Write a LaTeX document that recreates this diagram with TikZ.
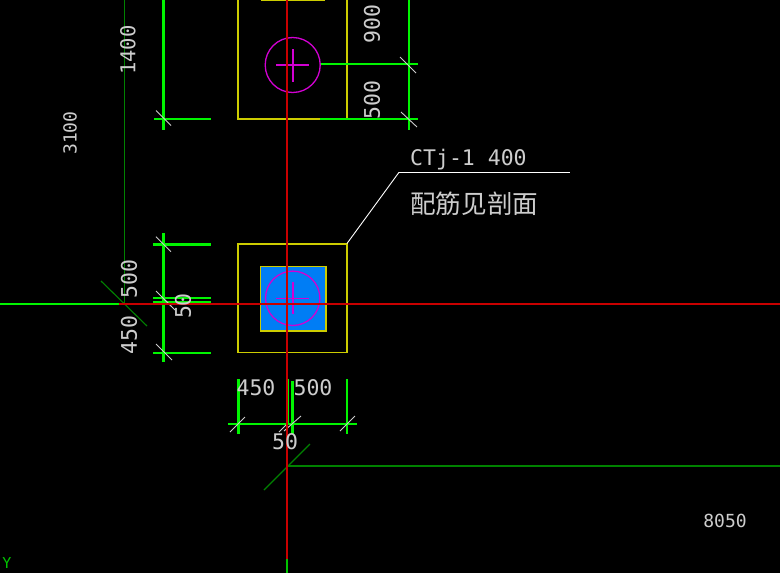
\documentclass[tikz,border=0pt]{standalone}
\usepackage{fontspec}
\setmainfont{DejaVu Sans Mono}
\newfontfamily\cjkfont{Noto Sans CJK SC}
\definecolor{cadyellow}{RGB}{204,204,0}
\definecolor{cadred}{RGB}{200,0,0}
\definecolor{cadgreen}{RGB}{0,130,0}
\definecolor{dimgreen}{RGB}{0,245,0}
\definecolor{cadmag}{RGB}{210,0,210}
\definecolor{cadblue}{RGB}{0,125,245}
\definecolor{cadtext}{RGB}{205,205,205}
\tikzset{
  x=1pt,y=-1pt,
  outline/.style={draw=cadyellow,line width=1.6pt},
  axisred/.style={draw=cadred,line width=1.8pt},
  axisgreen/.style={draw=cadgreen,line width=1.1pt},
  dimline/.style={draw=dimgreen,line width=2.4pt},
  tick/.style={draw=cadtext,line width=0.9pt},
  pile/.style={draw=cadmag,line width=1.3pt},
  lbl/.style={text=cadtext,inner sep=0pt,font=\fontsize{21.5}{21.5}\selectfont},
  lblsmall/.style={text=cadtext,inner sep=0pt,font=\fontsize{18}{18}\selectfont},
}
\begin{document}
\begin{tikzpicture}
\useasboundingbox[fill=black] (0,0) rectangle (780,573);
% blue column
\fill[cadblue] (260.5,266.5) rectangle (326,331);
\draw[outline] (260.5,331) -- (260.5,266.5) -- (326,266.5) -- (326,331) -- cycle;
% footing outlines
\draw[outline] (238,243.7) rectangle (347,352.5);
\draw[outline] (238,0) -- (238,118.7) -- (347,118.7) -- (347,0);
\draw[outline] (260.5,0) -- (325,0);
% dark green axes
\draw[axisgreen] (124.5,0) -- (124.5,303.5);
\draw[axisgreen] (101,281) -- (147,326);
\draw[axisgreen] (287,466) -- (780,466);
\draw[axisgreen] (264,490) -- (310,444);
% bright dimension lines: left
\draw[dimline] (163.5,0) -- (163.5,130);
\draw[dimline] (154,119) -- (211,119);
\draw[dimline] (163.5,233) -- (163.5,362);
\draw[dimline] (153,244.3) -- (211,244.3);
\draw[dimline] (153,298) -- (211,298);
\draw[dimline] (153,302.3) -- (211,302.3);
\draw[dimline] (153,353) -- (211,353);
% right
\draw[dimline] (408.7,0) -- (408.7,130);
\draw[dimline] (320,64) -- (418,64);
\draw[dimline] (320,119) -- (418,119);
% bottom
\draw[dimline] (228,424) -- (357,424);
\draw[dimline] (238.5,379) -- (238.5,434);
\draw[dimline] (288,379) -- (288,424);
\draw[dimline] (292.5,381) -- (292.5,434);
\draw[dimline] (347,379) -- (347,434);
% ticks
\draw[tick] (156,110.5) -- (171,125.5);
\draw[tick] (156,236.7) -- (171,251.7);
\draw[tick] (156,291) -- (171,306);
\draw[tick] (162,297) -- (175,310);
\draw[tick] (156,344) -- (172,360);
\draw[tick] (400,57) -- (416,73);
\draw[tick] (401,112) -- (417,127);
\draw[tick] (230,432) -- (245,417);
\draw[tick] (279,432) -- (287,424);
\draw[tick] (284,431) -- (301,416);
\draw[tick] (340,431) -- (355,416);
% piles
\draw[pile] (292.7,298.3) circle (27.2);
\draw[pile] (276,298.5) -- (308.7,298.5);
\draw[pile] (293,282) -- (293,314);
\draw[pile] (292.7,65) circle (27.5);
\draw[pile] (276,65) -- (308.7,65);
\draw[pile] (293,49) -- (293,82);
% red axes
\fill[dimgreen] (0,302.8) rectangle (119,304.6);
\fill[cadred] (119,302.8) rectangle (780,304.6);
\draw[axisred] (286.8,0) -- (286.8,559);
\draw[draw=dimgreen!80!black,line width=1.8pt] (286.8,559) -- (286.8,573);
% leader
\coordinate (leadA) at (347,243.5);
\coordinate (leadB) at (399,172.3);
\coordinate (leadC) at (570,172.3);
\draw[draw=white,line width=0.9pt] (leadA) -- (leadB);
\draw[draw=white,line width=1.6pt] (leadB) -- (leadC);
% labels
\node[lbl,rotate=90,font=\fontsize{20.5}{20.5}\selectfont] (t1400) at (128,50) {1400};
\node[lblsmall,rotate=90] (t3100) at (70,133) {3100};
\node[lbl,rotate=90] (t500a) at (129,279) {500};
\node[lbl,rotate=90] (t450a) at (129,335) {450};
\node[lbl,rotate=90] (t50a) at (183,306) {50};
\node[lbl,rotate=90] (t900) at (372,24) {900};
\node[lbl,rotate=90] (t500b) at (372,100) {500};
\node[lbl] (t450b) at (256,388) {450};
\node[lbl] (t500c) at (313,388) {500};
\node[lbl] (t50b) at (285,442) {50};
\node[lblsmall] (t8050) at (725,521) {8050};
\node[lbl,anchor=west] (tct) at (410,159.5) {CTj-1 400};
\node[text=cadtext,inner sep=0pt,anchor=west,font=\cjkfont\fontsize{25.6}{25.6}\selectfont] (tcj) at (410,204) {配筋见剖面};
\node[text=dimgreen!80!black,inner sep=0pt,font=\fontsize{15}{15}\selectfont] (ty) at (7,563) {Y};
\end{tikzpicture}
\end{document}
